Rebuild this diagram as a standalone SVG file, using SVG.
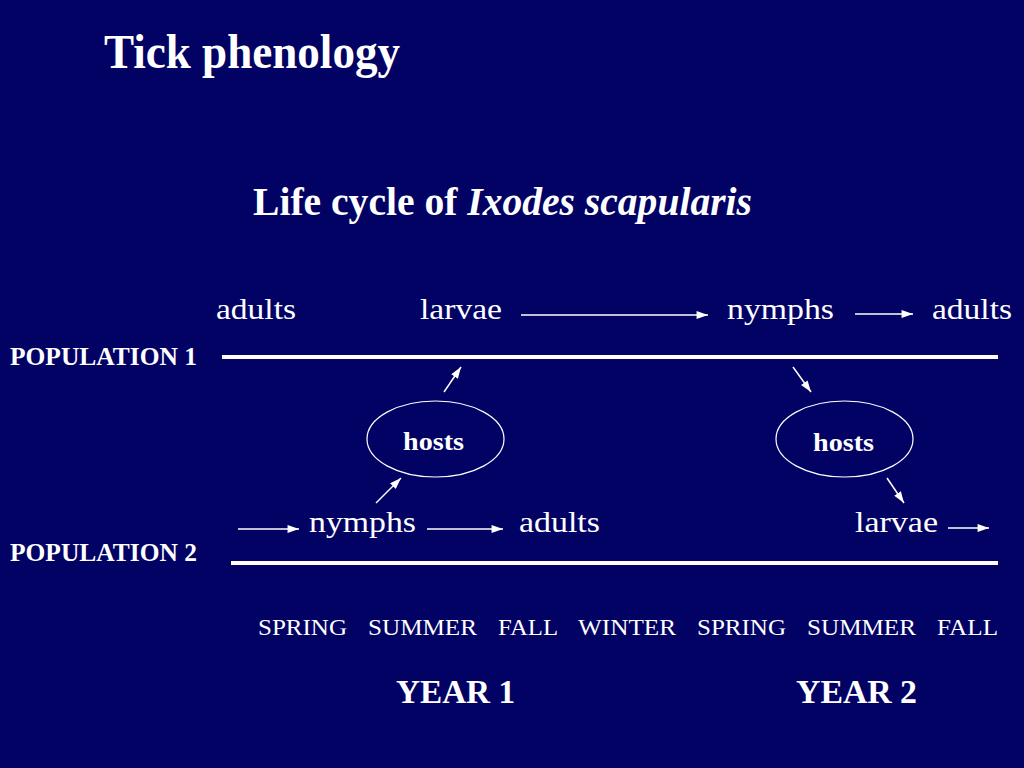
<svg xmlns="http://www.w3.org/2000/svg" width="1024" height="768" viewBox="0 0 1024 768">
<defs>
<style>
text{fill:#ffffff;font-family:"Liberation Serif","Times New Roman",serif}
.b{font-weight:bold}
.row{font-size:30px}
.pop{font-size:25px;font-weight:bold}
.season{font-size:24px}
.year{font-size:34px;font-weight:bold}
.hosts{font-size:25px;font-weight:bold;text-anchor:middle}
.arr{stroke:#ffffff;stroke-width:1.5;fill:none;marker-end:url(#ah)}
.tl{stroke:#ffffff;stroke-width:4;fill:none}
.ell{stroke:#ffffff;stroke-width:1.2;fill:none}
</style>
<marker id="ah" markerUnits="userSpaceOnUse" markerWidth="12" markerHeight="8" refX="10" refY="3.5" orient="auto" viewBox="0 0 10 7">
<path d="M0,0 L10,3.5 L0,7 Z" fill="#ffffff"/>
</marker>
</defs>
<rect x="0" y="0" width="1024" height="768" fill="#020264"/>
<text id="title" class="b" x="104" y="68" font-size="48" textLength="296" lengthAdjust="spacingAndGlyphs">Tick phenology</text>
<text id="subtitle" class="b" x="253" y="215" font-size="40" textLength="499" lengthAdjust="spacingAndGlyphs">Life cycle of <tspan font-style="italic">Ixodes scapularis</tspan></text>
<g id="pop1-label"><text class="pop" x="10" y="365" textLength="187" lengthAdjust="spacingAndGlyphs">POPULATION 1</text></g>
<g id="pop2-label"><text class="pop" x="10" y="561" textLength="187" lengthAdjust="spacingAndGlyphs">POPULATION 2</text></g>
<g id="timelines">
<line class="tl" x1="222" y1="357" x2="998" y2="357"/>
<line class="tl" x1="231" y1="563" x2="998" y2="563"/>
</g>
<g id="p1-adults"><text class="row" x="216" y="319" textLength="80" lengthAdjust="spacingAndGlyphs">adults</text></g>
<g id="p1-larvae"><text class="row" x="420" y="319" textLength="82" lengthAdjust="spacingAndGlyphs">larvae</text></g>
<g id="p1-nymphs"><text class="row" x="727" y="319" textLength="107" lengthAdjust="spacingAndGlyphs">nymphs</text></g>
<g id="p1-adults2"><text class="row" x="932" y="319" textLength="80" lengthAdjust="spacingAndGlyphs">adults</text></g>
<g id="p2-nymphs"><text class="row" x="309" y="532" textLength="107" lengthAdjust="spacingAndGlyphs">nymphs</text></g>
<g id="p2-adults"><text class="row" x="519" y="532" textLength="81" lengthAdjust="spacingAndGlyphs">adults</text></g>
<g id="p2-larvae"><text class="row" x="855" y="532" textLength="83" lengthAdjust="spacingAndGlyphs">larvae</text></g>
<g id="hosts1">
<ellipse class="ell" cx="435.5" cy="439" rx="68.5" ry="38"/>
<text class="hosts" x="433.5" y="450" textLength="61" lengthAdjust="spacingAndGlyphs">hosts</text>
</g>
<g id="hosts2">
<ellipse class="ell" cx="844.5" cy="439" rx="68.5" ry="38"/>
<text class="hosts" x="843.5" y="451" textLength="61" lengthAdjust="spacingAndGlyphs">hosts</text>
</g>
<g id="connectors">
<line class="arr" x1="521" y1="315" x2="708" y2="315"/>
<line class="arr" x1="855" y1="314" x2="913" y2="314"/>
<line class="arr" x1="238" y1="529" x2="299" y2="529"/>
<line class="arr" x1="427" y1="529" x2="503" y2="529"/>
<line class="arr" x1="948" y1="528" x2="989" y2="528"/>
<line class="arr" x1="444" y1="392" x2="461" y2="367"/>
<line class="arr" x1="376" y1="503" x2="401" y2="478"/>
<line class="arr" x1="793" y1="367" x2="811" y2="392"/>
<line class="arr" x1="887" y1="478" x2="904" y2="503"/>
</g>
<g id="seasons">
<text class="season" x="258" y="635" textLength="89" lengthAdjust="spacingAndGlyphs">SPRING</text>
<text class="season" x="368" y="635" textLength="109" lengthAdjust="spacingAndGlyphs">SUMMER</text>
<text class="season" x="498" y="635" textLength="60" lengthAdjust="spacingAndGlyphs">FALL</text>
<text class="season" x="578" y="635" textLength="98" lengthAdjust="spacingAndGlyphs">WINTER</text>
<text class="season" x="697" y="635" textLength="89" lengthAdjust="spacingAndGlyphs">SPRING</text>
<text class="season" x="807" y="635" textLength="109" lengthAdjust="spacingAndGlyphs">SUMMER</text>
<text class="season" x="937" y="635" textLength="61" lengthAdjust="spacingAndGlyphs">FALL</text>
</g>
<g id="years">
<text class="year" x="396" y="703" textLength="119" lengthAdjust="spacingAndGlyphs">YEAR 1</text>
<text class="year" x="796" y="703" textLength="121" lengthAdjust="spacingAndGlyphs">YEAR 2</text>
</g>
</svg>
